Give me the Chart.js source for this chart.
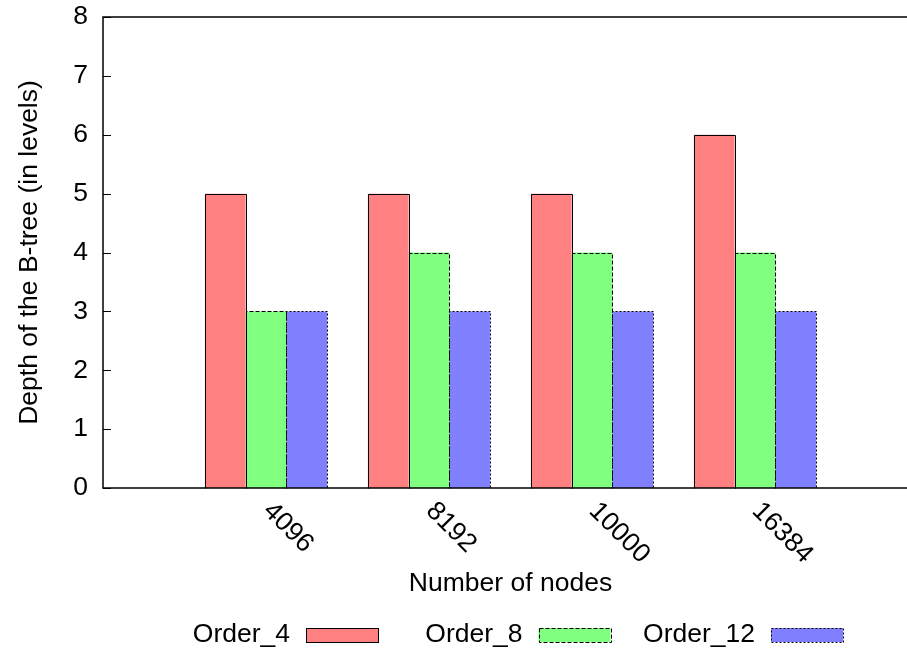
<!DOCTYPE html>
<html>
<head>
<meta charset="utf-8">
<script src="https://cdn.jsdelivr.net/npm/chart.js@4/dist/chart.umd.min.js"></script>
<style>
  html, body { margin: 0; padding: 0; background: #fff; overflow: hidden; width: 907px; height: 655px; }
  #wrap { position: absolute; left: 0; top: 0; width: 907px; height: 655px; }
</style>
</head>
<body>
<div id="wrap"><canvas id="c" width="907" height="655"></canvas></div>
<script>
// ---- data ----
const categories = ['4096', '8192', '10000', '16384'];
const seriesNames = ['Order_4', 'Order_8', 'Order_12'];
const order4 = [5, 5, 5, 6];
const order8 = [3, 4, 4, 4];
const order12 = [3, 3, 3, 3];
const yTicks = [0, 1, 2, 3, 4, 5, 6, 7, 8];
const xTitle = 'Number of nodes';
const yTitle = 'Depth of the B-tree (in levels)';

const FONT = "'Liberation Sans', Arial, Helvetica, sans-serif";
const FS = 26.5;

function pts(arr) { return arr.map((v, i) => ({ x: i, y: v })); }

const styles = [
  { bg: '#ff8080', dash: [] },
  { bg: '#80ff80', dash: [4, 2] },
  { bg: '#8080ff', dash: [2, 2] }
];
const seriesData = [order4, order8, order12];

const datasets = seriesNames.map((name, k) => ({
  label: name,
  data: pts(seriesData[k]),
  backgroundColor: styles[k].bg,
  borderWidth: 0,
  outlineDash: styles[k].dash,
  categoryPercentage: 0.75,
  barPercentage: 1.0
}));

const decor = {
  id: 'decor',
  afterDatasetsDraw(chart) {
    const ctx = chart.ctx;
    ctx.save();
    ctx.strokeStyle = '#000';
    ctx.lineWidth = 1;
    chart.data.datasets.forEach((ds, di) => {
      const meta = chart.getDatasetMeta(di);
      ctx.setLineDash(ds.outlineDash || []);
      meta.data.forEach(el => {
        const w = el.width;
        const l = Math.round(el.x - w / 2) + 0.5;
        const r = Math.round(el.x + w / 2) + 0.5;
        const t = Math.round(el.y) + 0.5;
        const b = Math.round(el.base) + 0.5;
        ctx.beginPath();
        ctx.moveTo(l, b); ctx.lineTo(l, t); ctx.lineTo(r, t); ctx.lineTo(r, b);
        ctx.stroke();
      });
    });
    ctx.restore();
  },
  afterDraw(chart) {
    const ctx = chart.ctx;
    const a = chart.chartArea;
    const xs = chart.scales.x, ys = chart.scales.y;
    ctx.save();
    // frame (right side lies beyond the visible picture)
    ctx.strokeStyle = '#000';
    ctx.lineWidth = 1.5;
    ctx.setLineDash([]);
    ctx.beginPath();
    ctx.moveTo(chart.width, a.top);
    ctx.lineTo(a.left, a.top);
    ctx.lineTo(a.left, a.bottom);
    ctx.lineTo(chart.width, a.bottom);
    ctx.stroke();
    // inward y ticks
    ctx.lineWidth = 1;
    yTicks.forEach(v => {
      const y = Math.round(ys.getPixelForValue(v)) + 0.5;
      ctx.beginPath();
      ctx.moveTo(a.left, y); ctx.lineTo(a.left + 8, y);
      ctx.stroke();
    });
    // rotated x tick labels
    ctx.fillStyle = '#000';
    ctx.font = FS + 'px ' + FONT;
    ctx.textAlign = 'left';
    ctx.textBaseline = 'alphabetic';
    categories.forEach((lab, i) => {
      const x = xs.getPixelForValue(i);
      ctx.save();
      ctx.translate(x - 4, a.bottom + 24);
      ctx.rotate(Math.PI / 4);
      ctx.fillText(lab, 0, 0);
      ctx.restore();
    });
    // legend (text then sample box)
    const boxW = 72, boxH = 14, y0 = 628;
    chart.data.datasets.forEach((ds, k) => {
      const bx = 306 + k * 232.5;
      ctx.fillStyle = '#000';
      ctx.textAlign = 'right';
      ctx.textBaseline = 'middle';
      ctx.fillText(ds.label, bx - 16, y0 + boxH / 2);
      ctx.fillStyle = ds.backgroundColor;
      ctx.fillRect(bx, y0, boxW, boxH);
      ctx.setLineDash(ds.outlineDash || []);
      ctx.lineWidth = 1;
      ctx.strokeStyle = '#000';
      ctx.strokeRect(Math.round(bx) + 0.5, y0 + 0.5, boxW, boxH);
    });
    ctx.restore();
  }
};

new Chart(document.getElementById('c'), {
  type: 'bar',
  data: { datasets },
  options: {
    responsive: false,
    animation: false,
    devicePixelRatio: 1,
    layout: { padding: { left: 0, right: 0, top: 17, bottom: 0 } },
    plugins: { legend: { display: false }, tooltip: { enabled: false } },
    scales: {
      x: {
        type: 'linear',
        offset: false,
        min: -1, max: 3.9325,
        afterBuildTicks(s) { s.ticks = [-1, 0, 1, 2, 3].map(v => ({ value: v })); },
        ticks: { display: false },
        grid: { display: false, offset: false },
        border: { display: false },
        title: { display: false },
        afterFit(s) { s.height = 167; s.paddingLeft = 0; s.paddingRight = 0; }
      },
      y: {
        min: 0, max: 8,
        afterBuildTicks(s) { s.ticks = yTicks.map(v => ({ value: v })); },
        ticks: { color: '#000', font: { family: FONT, size: FS }, padding: 15 },
        grid: { display: false, drawTicks: false },
        border: { display: false },
        title: { display: true, text: yTitle, color: '#000', font: { family: FONT, size: FS }, padding: { top: 14, bottom: 0 } },
        afterFit(s) { s.width = 103; s.paddingTop = 0; s.paddingBottom = 0; }
      }
    }
  },
  plugins: [decor, {
    id: 'xtitle',
    afterDraw(chart) {
      const ctx = chart.ctx;
      const xs = chart.scales.x;
      // centred under the full (partly hidden) x range -1..4
      const cx = (xs.getPixelForValue(-1) + xs.getPixelForValue(4)) / 2;
      ctx.save();
      ctx.fillStyle = '#000';
      ctx.font = FS + 'px ' + FONT;
      ctx.textAlign = 'center';
      ctx.textBaseline = 'middle';
      ctx.fillText(xTitle, cx, 584);
      ctx.restore();
    }
  }]
});
</script>
</body>
</html>
